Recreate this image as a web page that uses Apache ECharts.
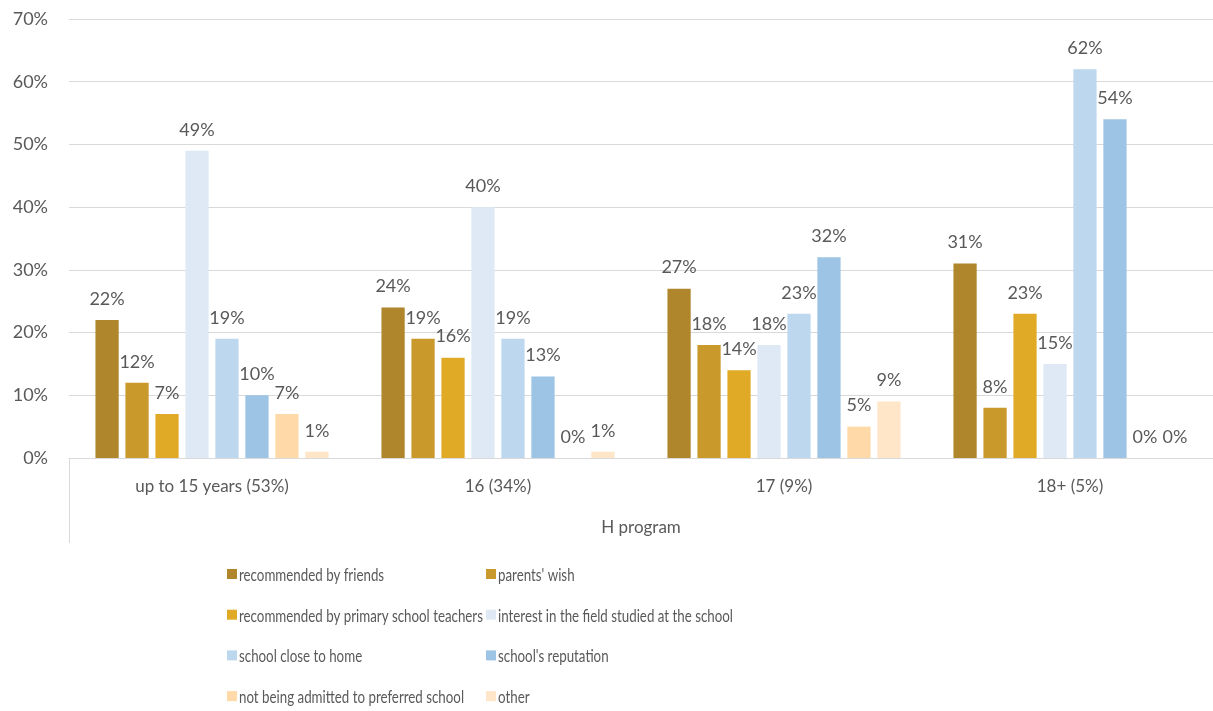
<!DOCTYPE html>
<html>
<head>
<meta charset="utf-8">
<script src="https://cdn.jsdelivr.net/npm/echarts@6/dist/echarts.min.js"></script>
<style>
  html, body { margin: 0; padding: 0; background: #fff; }
  #chart { width: 1213px; height: 711px; }
</style>
</head>
<body>
<div id="chart"></div>
<script>
// Age groups (share of respondents in brackets)
const categories = ['up to 15 years (53%)', '16 (34%)', '17 (9%)', '18+ (5%)'];
const axisTitle = 'H program';

// Reasons for choosing the school, percent per age group
const recommendedByFriends   = [22, 24, 27, 31];
const parentsWish            = [12, 19, 18, 8];
const recommendedByTeachers  = [7, 16, 14, 23];
const interestInField        = [49, 40, 18, 15];
const closeToHome            = [19, 19, 23, 62];
const schoolReputation       = [10, 13, 32, 54];
const notAdmittedElsewhere   = [7, 0, 5, 0];
const otherReason            = [1, 1, 9, 0];

const seriesNames = [
  'recommended by friends',
  "parents' wish",
  'recommended by primary school teachers',
  'interest in the field studied at the school',
  'school close to home',
  "school's reputation",
  'not being admitted to preferred school',
  'other'
];
const seriesValues = [
  recommendedByFriends, parentsWish, recommendedByTeachers, interestInField,
  closeToHome, schoolReputation, notAdmittedElsewhere, otherReason
];
const seriesColors = [
  '#B0862C', '#C9992C', '#E0AA27', '#DEE9F5',
  '#BDD7EE', '#9DC3E5', '#FFDAA8', '#FFE6C8'
];

const yTicks = { min: 0, max: 70, interval: 10 };

const FONT = 'Lato, "Noto Sans", sans-serif';
const TEXT = '#595959';
const LINE = '#D9D9D9';
const GRID_LEFT = 69;
const GRID_BOTTOM = 253;

const chart = echarts.init(document.getElementById('chart'), null, { renderer: 'canvas' });

const series = seriesNames.map((name, i) => ({
  name: name,
  type: 'bar',
  data: seriesValues[i],
  itemStyle: { color: seriesColors[i] },
  barGap: '29%',
  barCategoryGap: '18.5%',
  label: {
    show: true,
    position: 'top',
    distance: 12,
    color: TEXT,
    fontFamily: FONT,
    fontSize: 18,
    formatter: p => p.value + '%'
  },
  emphasis: { disabled: true }
}));

// Two-column legend: swatch + condensed label per series
const LEGEND_COLS = [227, 486];
const LEGEND_TOP = 574;
const LEGEND_ROW = 40.7;
const legendItems = seriesNames.map((name, i) => {
  const col = i % 2;
  const row = Math.floor(i / 2);
  const x = LEGEND_COLS[col];
  const y = LEGEND_TOP + row * LEGEND_ROW;
  return {
    type: 'group',
    silent: true,
    children: [
      { type: 'rect', shape: { x: x, y: y - 5, width: 10, height: 10 }, style: { fill: seriesColors[i] } },
      {
        type: 'text',
        x: x + 12, y: y + 1,
        scaleX: 0.74,
        style: {
          text: name, fill: TEXT, font: '18px ' + FONT,
          textAlign: 'left', textVerticalAlign: 'middle'
        }
      }
    ]
  };
});

chart.setOption({
  animation: false,
  textStyle: { fontFamily: FONT },
  grid: { left: GRID_LEFT, right: -5, top: 19, bottom: GRID_BOTTOM, containLabel: false },
  xAxis: {
    type: 'category',
    data: categories,
    axisLine: { show: true, lineStyle: { color: LINE, width: 1 } },
    axisTick: { show: false },
    axisLabel: { color: TEXT, fontFamily: FONT, fontSize: 17, margin: 20 },
    name: axisTitle,
    nameLocation: 'middle',
    nameGap: 61,
    nameTextStyle: { color: TEXT, fontFamily: FONT, fontSize: 17 }
  },
  yAxis: {
    type: 'value',
    min: yTicks.min,
    max: yTicks.max,
    interval: yTicks.interval,
    axisLine: { show: false },
    axisTick: { show: false },
    splitLine: { lineStyle: { color: LINE, width: 1 } },
    axisLabel: { color: TEXT, fontFamily: FONT, fontSize: 18, margin: 21, formatter: v => v + '%' }
  },
  series: series
});

// Outer bracket line of the two-level category axis, plus the legend
const axisY = chart.getHeight() - GRID_BOTTOM;
chart.setOption({
  graphic: [{
    type: 'line',
    shape: { x1: GRID_LEFT + 0.5, y1: axisY, x2: GRID_LEFT + 0.5, y2: axisY + 85 },
    style: { stroke: LINE, lineWidth: 1 },
    silent: true
  }].concat(legendItems)
});
</script>
</body>
</html>
